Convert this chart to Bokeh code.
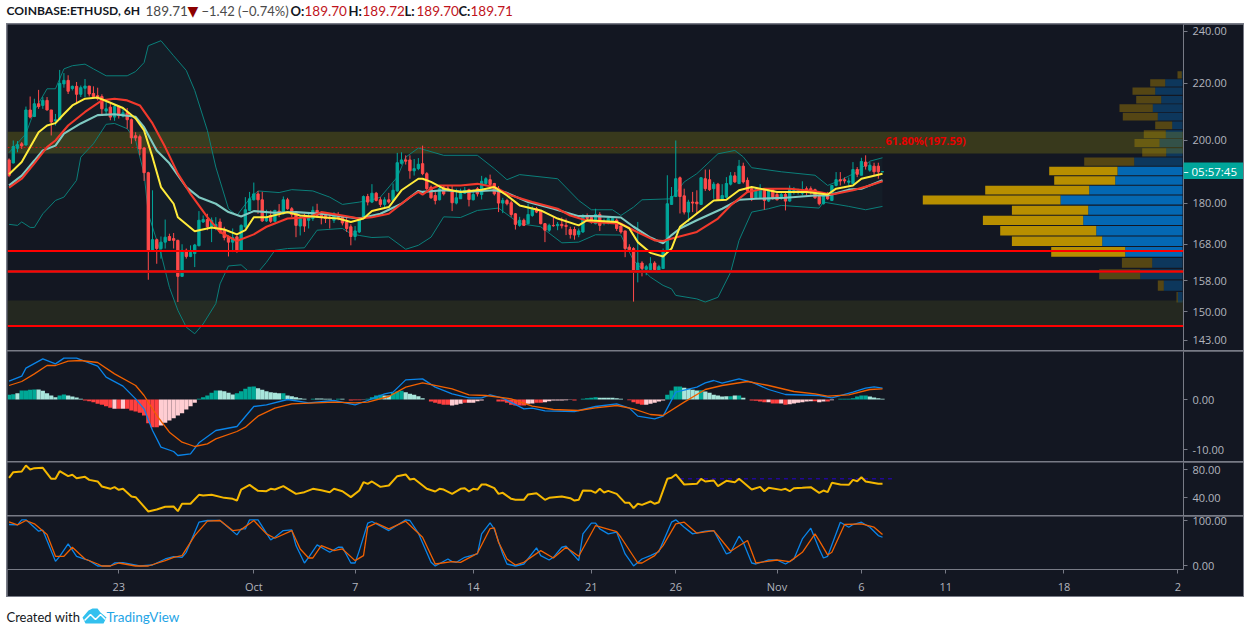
from bokeh.plotting import figure
from bokeh.layouts import column
from bokeh.models import Range1d, FixedTicker, PrintfTickFormatter, Label, Span
from bokeh.embed import file_html
from bokeh.resources import INLINE

BG = "#131722"; GRID = "#787b86"; TXT = "#b2b5be"
UP = "#00a69a"; DN = "#ff4a4a"; FONT = "Open Sans"

bar_idx = list(range(-26, 182))
opens = [193.5,192.5,197.3,198.8,198.4,210.4,208.1,212.6,212,213.8,210.4,206.6,207,219.8,221.1,218.1,218.9,216,218.2,219,216.3,215.5,215.2,210,211.4,207.9,
 211.6,208.2,209.4,207,201.5,201.2,197.4,189.4,166.3,169.3,166.8,168.6,170.2,169.6,169.1,159.2,166.3,164.6,165.4,167.6,174.4,175.1,172.8,172.8,174.4,172.2,170.1,168.6,170.1,166.3,
 173,177.8,181,182.8,181,174.7,176.3,174.6,177.6,176.8,181,178.3,177.3,173.2,175.4,174.9,175.4,177.8,176.8,176.3,175.8,174.9,175.8,175.8,174.4,173,170.2,171.5,175.8,182,180.3,183,181,179.6,181,180.8,183.7,192.4,193.5,193.5,190,190.7,
 192.3,189.1,184.9,182.3,181,184.9,184.6,183.4,180,181.3,183,184.1,181,184.4,182.6,186,187.2,186,184.4,180,180.8,180.1,176.8,173.4,174.9,173.9,176.3,178.3,177.6,173.9,172,173.4,173.3,173.7,173.4,172.2,172.2,170.8,171.5,176.1,175.7,173.9,176.6,174.1,174.1,174.4,174.9,173.2,171.8,167.2,166.8,160.3,162.8,161.1,161,162.8,160.8,161.3,165.8,179.6,182,187.8,182.2,177.3,180.3,180.3,179.6,187.5,187.2,184.4,185.8,181,181.8,185.8,188.4,186,191.5,187,184.4,181.6,181.6,184.1,180.6,184.1,182.6,181.6,182.6,180.6,183.4,183.4,183,184.4,184.4,184.1,182,179.8,182.8,180.8,185.4,187.2,187.2,186.4,186,190.4,188.6,192.8,190.2,191.5,191.5,189.70]
highs = [194,199.9,199.7,199.4,211.6,215.2,214.4,217.6,215,215,210.4,209,225,223.8,223,219.2,220.5,219.2,221.6,219,218.9,218.4,216,213.2,212.6,212.4,
 212,211.4,211.1,207.4,202.7,201.9,197.7,189.7,183.9,169.6,170.2,175.1,171,171.2,169.3,168,166.8,167.7,168.1,177.6,176.3,176.8,175.7,175.8,175.4,173,170.5,172.5,170.5,173.7,
 181.8,183.4,186.3,183.7,183.4,178,177.8,178,179.7,182,181.6,178.8,177.6,176.3,176.8,176.8,179,179.8,177.3,177.3,176.8,177.3,177.3,176.3,175.8,173.7,173.2,175.8,182.3,182.8,185.8,183.4,181.8,181.8,183.1,186,195.8,196,195,195,193.8,194.1,
 198.2,189.6,185.4,183.4,185.4,185.4,185.4,185.4,184.4,184.4,184.9,184.4,184.1,184.9,188.4,188,188.8,186.2,185.2,181.6,181.3,180.8,177,175.9,175.4,179.8,179,178.8,177.8,174.1,173.9,176,174.4,175.7,175.4,173,173,172.5,176.7,176.9,176.4,178.3,177.3,175.4,176.1,175.9,175.4,173.7,171.8,168,167.2,174.4,163.3,162.3,164.4,163.3,162.3,166.8,188.6,184.9,199.9,188.2,184.4,181,183.4,183.9,188,190.4,190.4,186.5,186.2,185.8,188,189.6,189.6,193.5,192.6,187.9,184.9,184.9,185.8,184.4,184.4,184.4,183.4,183.4,183.4,185.4,184.9,184.4,186.7,185.1,185.1,184.4,182.6,182.3,183.4,185.4,189.6,189.6,187.9,187.9,192.8,191.2,194.2,195,192.8,192.6,192.6,189.72]
lows = [188,192.4,196,197.1,198.2,207.4,207.9,210.8,210.8,210.2,201.6,205,207,218.4,216.1,217.4,212.6,215,215,215.2,215,213.8,208.4,208.4,206.8,206.6,
 207.4,207.8,203.9,198.8,199.7,195,186.8,158.3,166.3,162.6,164,166.8,168.9,166.8,152.5,159.2,164,164.4,161.7,167.4,174.1,172,168.6,172,171,169.1,164.6,165.8,165.6,166.1,
 172.5,177.6,180.8,176.8,174.4,174.4,174.1,174.4,175.8,176.6,178,175.8,170,170.5,171.5,172.5,174.7,175.8,173.7,174.1,172.5,174.1,174.9,173.4,171.5,167.7,169.1,171.2,175.4,179.3,180,180.5,178.8,178.8,179.8,180.3,183.4,192,192,187.5,188.5,190.2,
 188.6,184,181.3,179.6,180.8,182.3,183.7,177.6,179.6,181.3,182.8,179,180.8,182,181.1,185.4,184.9,182.3,177.3,177,179.3,175.9,172.2,173,173.2,173.7,175.9,177,173.7,168.6,171.5,173,172,172.5,170.6,169.6,169.3,170,171.2,174.4,173.9,173.7,171.8,173.4,173.7,173.9,171.8,171,164.4,166.3,152.6,157.6,159.2,159.5,160.9,160.1,160.6,161.3,165.6,179.6,181.8,176.9,176.6,174.4,177.3,177,179.6,183.7,183.7,181.3,181,180.8,181.6,185.4,186.2,185.8,186,183.4,180.6,181.3,181.3,178,180.3,181,180.8,181,177.8,180.4,182.6,182.6,182.3,182.3,182.6,181.3,179.3,179.6,181,180.6,185.1,185.4,186,185.4,185.8,188,188.6,190.4,189.7,188.6,187.5,189.70]
closes = [188.5,197.9,198.5,198.1,210.4,207.9,212.6,211.6,213.8,210.4,206.2,207,220,221.1,217.1,218.9,216,218.4,219,216.1,215.2,214.4,210.8,210.8,207.9,211.6,
 208.4,209.4,207,200.8,200.8,197.1,189.4,166.3,169.3,166.8,168.6,170,169.1,169.1,159.2,166.3,164.6,165.7,167.8,174.9,175.1,173,174.9,173.7,171.5,169.9,168.6,169.9,166.3,173.4,
 178,181.3,182.8,181,174.7,175.8,174.6,177.8,176.6,181,178.3,176.6,173.4,175.4,173.2,175.8,177.8,176.3,175.8,175.4,175.4,176.8,175.4,174.1,172.5,170.2,171.8,175.7,182,180.3,183,180.8,179.6,181,180.3,183.9,192.6,193.5,193.1,190,190.7,192.1,
 189.1,184.4,181.6,180.8,184.4,182.8,184.4,180.1,181.6,183,183.9,181.1,182.6,182.8,186.7,187.5,185.7,182.8,180,180.8,179.8,176.6,173.7,174.9,173.4,176.6,178.3,177.3,173.9,172,173.4,173.3,173.7,173.3,173.1,170.8,170.6,171.8,176.1,175.4,174.4,176.6,173.4,174.7,175.4,175.4,172.5,171.5,166.8,166.5,160.3,162.8,161.3,161.8,162.6,161,161.8,165.8,179.8,182,187.5,182,177.3,180.3,180,179.8,187.8,184.4,184.1,185.8,181,182.3,186,188.4,186.5,191.5,186.5,183.7,181.6,184.1,184.4,180.8,183.9,181.6,181,182.6,180.6,184.4,183.9,184.1,184.1,183.3,183.7,181.6,179.8,182,181.3,185.4,187.2,186.8,186.8,186.8,190.4,188.9,193,191.5,191.8,189.7,189.7,189.71]

bb_up_x = [-26,-22,-20,-17,-15,-13,-11,-8,-6,-3,2,4,6,7,10,13,16,18,21,23,26,28,31,33,38,41,46,50,53,57,60,62,66,68,71,73,77,85,89,92,95,104,109,112,117,119,122,124,131,134,137,142,146,148,150,157,165,168,171,175,178,181]
bb_up = [195.9,202.2,210.2,218,218,225.4,226.6,227.2,225.4,222.8,222.8,224.4,227.8,234.3,236.3,230.4,224.8,217.4,203.3,191.2,178.3,176.3,181.3,183.7,183.2,184.1,183.7,181.8,179.6,180.3,181,181.8,188,194.4,197.4,196.6,195,195,190.7,187.2,188.8,187.5,180.8,178,178,176.3,178.8,181,181.3,186.5,189.1,195.5,196.6,194.5,191,189.7,188.6,185.4,187,189.7,193.1,194.2]
bb_lo_x = [-26,-24,-23,-21,-20,-18,-15,-13,-10,-9,-6,-3,-1,2,4,6,7,10,12,14,16,18,20,23,24,26,29,31,33,35,37,40,44,47,53,55,57,60,64,68,71,74,77,81,85,90,95,100,105,109,113,119,120,122,126,129,131,132,137,139,142,145,147,150,154,157,166,167,173,177,181]
bb_lo = [173.7,173.4,174.4,172.8,172.8,176.8,180.8,181.8,187,194.4,198.8,205.4,205.7,203.9,199.9,189.1,176.8,165.4,156.3,150.4,146.2,144.6,147,152.1,157.2,162,162.3,160.3,160.3,163,166.3,166.8,167,172,172.5,171,170.5,169.9,170.1,166.6,167.7,170,175.9,175.7,177.8,178.5,173.9,173,168.4,168.6,170.7,170.6,168.1,163.5,159,156.8,155.9,154.2,153.3,152.5,153.7,160.3,169.1,177.3,178.3,179.3,178.5,180.3,179,178,179]
ema_fast_x = [-26,-23,-19,-17,-15,-13,-11,-8,-5,-3,1,4,6,8,10,13,14,18,22,25,28,30,32,35,40,43,48,52,55,58,60,64,67,71,72,74,77,81,86,89,92,95,100,104,109,111,118,121,123,126,129,131,133,137,141,144,147,150,156,163,168,170,174,176,181]
ema_fast = [188.9,192.8,202.7,205,205.8,209,212,214.4,214.8,213.6,211.1,207.4,203.3,194.4,184.9,179.8,175.8,171.7,172.8,172.2,170.8,172,175.8,175.8,177.3,176.3,175.8,175.4,174.4,175.4,177.6,178.8,183.9,187.5,187.5,186.5,184.4,183.4,184.1,184.9,182.3,179.3,177.8,175.4,173.4,174.9,174.4,172.5,168.6,165.6,164.6,166.8,173,176.9,180.8,181,183.9,184.9,183.4,183.4,182.6,184.4,185.4,187.5,189.1]
ma_mid_x = [-26,-23,-20,-18,-15,-13,-9,-5,-1,4,6,9,12,16,19,23,26,29,32,37,42,48,53,57,62,67,71,72,77,82,89,92,97,103,109,113,119,122,126,129,131,133,137,143,147,151,158,165,168,173,176,181]
ma_mid = [185.4,188.5,193.3,196.6,198.2,202.2,205.7,208.6,208.9,208,204.4,196.6,192.4,184.9,181.8,179.8,177.3,176,177.6,177.1,177.3,176.8,176,175.4,176.8,179.8,183.7,183.4,183.9,183.4,183.9,183.1,180.3,178.3,176.1,176.1,175.7,173,169.9,168.3,170.6,172.5,174.9,178.3,181,181.3,181.6,182.3,182.3,184.1,184.4,187]
ema_slow_x = [-26,-23,-20,-17,-15,-12,-8,-4,-1,2,5,8,11,14,17,21,24,28,32,35,40,45,48,53,57,60,64,69,71,72,74,76,81,85,89,93,98,104,107,112,119,122,127,129,132,137,142,145,149,153,159,165,169,174,178,181]
ema_slow = [184.7,187.5,192.4,197.7,199.9,205,209.7,213.8,214.4,213.8,212,205.7,197.7,189.1,182.8,175.8,171.5,168.9,170.8,173,175.4,175.8,177.3,176.3,175.4,175.8,176.8,181.8,183.4,182.6,184.4,185.4,185.4,185.9,184.9,182.3,180.3,178.3,176.3,174.4,173.9,172,169.1,168.9,169.9,171.5,175.4,179.3,183.4,184.4,184.4,183.6,182.6,183.9,185.4,186.7]

vp_low = [152.4,155.4,158.4,161.5,164.5,167.5,170.5,173.5,176.5,179.6,182.6,185.6,188.6,191.6,194.6,197.7,200.7,203.7,206.7,209.7,212.7,215.8,218.8,221.8]
vp_high = [155.1,158.1,161.1,164.2,167.2,170.2,173.2,176.2,179.2,182.3,185.3,188.3,191.3,194.3,197.3,200.4,203.4,206.4,209.4,212.4,215.4,218.5,221.5,224.5]
vp_buy = [4.7,18.7,42.3,30.3,57.3,80.3,86.3,99.3,94.3,122,93.3,67.3,65,48.3,16.3,23,16.7,10.3,24.7,29.7,21.3,27.3,17.3,.7]
vp_sell = [1.3,6,41,30.3,74,90.3,96,100.3,76.3,137.7,104,61,68.3,50,24,25,22,17,35,33.3,25,22.7,15,4.3]
vp_value_area = [0,0,0,0,1,1,1,1,1,1,1,1,1,0,0,0,0,0,0,0,0,0,0,0]

support_levels = [166.1, 160.5, 146.5]
fib_level = 197.59
zone_bottoms = [195.6, 146.5]
zone_tops = [202.9, 152.9]
price_ticks = [240, 220, 200, 180, 168, 158, 150, 143]

hist_vals = [.93,1.07,1.27,1.8,1.8,1.93,2,2,1.73,1.27,.8,.47,.8,1,.8,.6,.4,.13,
 -.2,-.33,-.53,-.87,-1.07,-1.33,-1.67,
 -1.87,-1.87,-1.87,-1.87,-2.2,-2.4,-2.67,-3.2,-4.73,-5.53,-5.53,
 -5.2,-4.67,-4.2,-3.73,-3.2,-2.73,-2,-1.33,-.67,
 .13,.47,.8,1.33,1.8, 1.8,1.67,1.33,1, 1.27,1.67,2.13,2.53,2.6, 2.27,1.93,1.67,1.47,1.33,1.27, 1.27, .8,.67,.47,.27,.13, 0,
 .13,.2,.2,.13,.13,0,.13,.13,0, -.2,-.13,-.13,-.03, .13,.47,.8,.93, .8,.8, 1.33,1.6,1.73, 1.47,1.13,.93,.67,.27,0,
 -.4,-.67,-.87,-1.07,-1.07, -1.2,-1.07,-.87,-.67,-.67,-.67,-.33,-.2,0,0,0,
 -.4,-.4,-.67,-1.07,-1.2,-1.2,-1.2, -.87,-.8,-.67,-.67,-.53,-.33,-.2,-.2,-.2,-.13,-.07,-.2,0,
 .13,.27,.33,.47, .33,.33,.33,.33,.27,.13,0, -.13,-.53,-.87,-1.07, -1.07,-.87,-.67,-.4,-.2,
 .93,1.8,2.6,2.6, 2.33,2.13,1.93,1.8, 1.87, 1.6,1.33,.93,.8,.6,.67, .67,.8,.8,.33,0,
 -.2,-.27,-.4,-.53, -.53, -.8,-.8, -.8, -1.07, -.93,-.8,-.67,-.53,-.4,-.33,-.33,-.53,-.4, -.4,-.13,0,
 .13,.13,.13,.27,.6,.8,.8, .6,.4,.27,.13]
hist_kinds = ("aabaaaabbbbbaabbbb" "ddddddd" "cdcdddddddd" "ccccccccc" "aaaaa" "bbbb" "aaaaa" "bbbbbb" "a" "bbbbb" "b"
 "abbbbbabb" "dddc" "aaaa" "bb" "aaa" "bbbbbb" "ddddd" "cccdccccccc" "ddddddd" "ccddcccccccdd" "aaaa" "bbbbbbb" "dddd" "ccccc"
 "aaaa" "bbbb" "a" "bbbbbb" "ababb" "dddd" "c" "dd" "c" "d" "ccccccdcc" "dcb" "aaaaaaa" "bbbb")
hist_palette = {"a": "#00a896", "b": "#a8e6dc", "c": "#ffcdd2", "d": "#ff4040"}

macd_x = [-26,-23,-22,-18,-15,-13,-10,-5,-3,1,4,6,8,10,13,14,17,19,23,28,32,35,40,45,51,56,59,63,65,68,72,75,79,83,86,88,91,96,98,101,108,113,118,121,123,127,129,132,137,139,141,143,147,150,154,158,166,169,174,177,179,181]
macd_line = [3.67,4.67,6.27,8.13,7.13,8.27,8.27,6.67,4.47,2.67,.13,-1.87,-6.2,-9.53,-10.4,-11.2,-10.87,-8.67,-6.2,-5.4,-1.4,-1.07,0,-.67,-.2,-1.07,-.2,1.13,1.47,3.93,4.13,2.47,1.13,.33,.33,.93,.27,-1.87,-1.73,-2.27,-2.4,-1.4,-.87,-1.73,-3.33,-3.87,-3.33,1.47,2.47,3.33,3.8,3.27,4.13,3.47,2,1,.8,.33,1.47,2.27,2.53,2.27]
signal_x = [-26,-23,-20,-17,-15,-12,-9,-5,-1,4,6,9,12,15,18,21,23,28,30,33,37,41,51,56,59,64,68,72,79,83,87,93,98,103,109,113,118,122,126,129,134,139,143,149,154,160,165,168,173,178,181]
signal_line = [2.8,3.6,5.13,6.8,6.8,7.67,7.8,7.4,5.13,2.8,.8,-3.2,-6.53,-8.53,-9.4,-8.87,-7.87,-6.4,-5.53,-3.33,-1.73,-.87,-.53,-.67,-.53,.6,2.47,3.33,2.13,.93,.8,.13,-1.33,-2,-2.2,-1.67,-1.2,-1.87,-3,-3.2,-.53,2,2.8,3.6,2.8,1.6,1.13,.67,.93,2,2.13]

rsi_x = [-26,-25,-23,-22,-21,-20,-18,-16,-15,-14,-12,-11,-10,-8,-7,-5,-4,-2,-1,0,1,3,4,7,9,11,13,14,15,17,19,20,22,25,27,28,29,31,33,35,36,37,39,42,44,46,48,50,51,53,55,57,58,59,60,62,64,66,68,69,70,73,75,76,77,79,81,82,83,84,85,86,87,89,90,91,93,94,96,97,99,101,102,105,107,108,109,110,112,113,114,115,116,118,120,121,122,123,124,126,127,128,130,131,132,134,137,138,139,141,142,144,146,147,150,152,153,154,157,158,159,160,162,164,166,167,168,169,171,173,174,175,176,177,178,180,181]
rsi_vals = [68.1,76.2,77.1,85.7,80,81.9,82.4,66.7,66.7,77.6,70.5,72.4,67.6,69.5,65.2,62.9,55.7,52.4,54.8,51,52.4,41.4,40.5,20,22.9,26.7,27.1,20.5,31,31,43.8,42.9,43.8,39.5,38.1,35.7,51.4,58,49.5,49,52.4,51.4,56.2,45.2,47.6,52.4,50.5,47.6,52.4,49,40.5,50,61.9,59.5,62.9,55.2,57.1,70.5,72.9,65.7,66.7,52.4,48.6,52.4,51.4,45.2,52.4,53.3,48.6,52.4,51.4,58.6,58.6,53.3,45.2,46.7,38.1,36.7,36.7,44.3,46.2,36.7,39.5,41.4,39,35.7,36.7,50,49.5,46.7,52.4,47.1,49.5,45.2,32.4,32.4,24.8,31,29.5,34.3,31,33.3,66.7,68.1,72.9,58.6,59.5,66.7,62.9,64.3,56.2,63.8,61.9,66.7,51.4,55.2,49,53.8,50.9,52.4,49,53.3,53.8,54.8,46.7,50,47.6,61,58.6,58.1,65.2,63.3,69,62.9,61.9,59.5,59.5]
rsi_band_x = [133, 184]
rsi_band = [66.7, 66.7]

stoch_k_x = [-26,-24,-23,-22,-19,-18,-15,-14,-12,-10,-7,-5,-2,-1,1,5,8,11,13,15,16,19,21,24,28,29,30,31,33,36,37,39,41,42,44,45,47,50,52,53,55,56,57,59,60,64,68,69,71,74,75,78,79,80,82,85,86,88,89,91,92,94,96,99,100,102,103,105,106,109,110,112,113,114,116,118,120,122,124,126,128,131,132,134,136,139,141,144,145,147,148,150,151,154,156,158,160,162,164,166,167,168,171,173,174,176,178,180,181]
stoch_k = [91.2,90.4,101.5,101.5,76.5,78.7,10.3,21.3,48.5,21.3,11.8,0,0,6.6,7.4,0,2.2,15.4,20.6,19.1,30.1,96.3,100,100,68.4,81.6,81.6,101.5,101.5,57.4,63.2,77.9,79.4,44.9,6.6,19.1,46.3,30.1,41.2,41.2,6.6,6.6,33.8,94.1,97.8,77.9,101.5,100,72.1,8.1,0,15.4,9.6,8.1,19.1,26.5,70.6,95,80.9,26.5,4.4,0,4.4,39.7,22.8,13.2,19.1,41.2,43.4,11.8,70.6,94.1,94.1,81.6,70.6,74.3,26.5,0,15.4,22.8,31.6,96.3,101.5,85.3,70.6,76.5,77.9,26.5,30.1,65.5,52.2,6.6,4.4,13.2,13.2,4.4,15.4,59.6,83.1,37.5,17.6,21.3,96.3,85.3,91.2,96.3,85.3,66.9,63.2]
stoch_d_x = [-26,-24,-22,-20,-17,-15,-13,-11,-8,-5,-4,-2,0,4,7,11,13,15,18,21,24,27,29,32,35,37,41,43,45,46,48,51,53,56,58,59,61,64,68,72,75,79,81,84,85,88,89,90,92,94,96,100,103,106,109,113,118,119,123,124,127,129,132,134,137,141,145,149,151,156,159,162,165,166,168,169,172,176,179,181]
stoch_d = [97.1,90.4,100,92.6,69.1,21.3,21.3,41.2,15.4,4.4,0,0,6.6,0,0,11.8,19.1,22.8,66.9,98.5,100,77.9,80,100,70.6,61,77.9,37.5,17.6,17.6,44.9,33.8,37.5,11.8,22.8,85.3,94.1,81.6,98.5,63.2,4.4,9.6,8.1,22.8,28,82.3,83.8,52.2,15.4,2.2,8.1,33.8,17.6,41.2,21.3,88.9,75.8,63.2,6.6,6.6,22.8,44.9,92.6,96.3,72.1,77.9,32.4,55.9,6.6,13.2,9.6,30.1,70.6,55.9,24.3,30.1,91.2,92.6,85.3,69]

time_ticks = [0, 32, 56, 84, 112, 132, 156, 176, 196, 224, 251]
time_labels = ["23", "Oct", "7", "14", "21", "26", "Nov", "6", "11", "18", "2"]

x_view = (-26.37, 252.33)
FRAME_W = 1176


def panel(fh, yr, ticks, yfmt="%.2f", log=False, bottom=0):
    p = figure(frame_width=FRAME_W, frame_height=fh, x_range=Range1d(*x_view), y_range=Range1d(*yr),
               y_axis_type="log" if log else "linear", y_axis_location="right", x_axis_location="below" if bottom else None,
               output_backend="svg", toolbar_location=None, background_fill_color=BG, border_fill_color=BG,
               min_border_left=0, min_border_top=0, min_border_bottom=bottom, min_border_right=60, outline_line_color=None,
               margin=(1, 1, 0, 1))
    p.grid.visible = False
    ax = p.yaxis[0]
    ax.ticker = FixedTicker(ticks=ticks)
    ax.formatter = PrintfTickFormatter(format=yfmt)
    ax.axis_line_color = GRID
    ax.major_tick_line_color = GRID
    ax.major_tick_in = 0
    ax.major_tick_out = 4
    ax.minor_tick_line_color = None
    ax.major_label_text_color = TXT
    ax.major_label_text_font = FONT
    ax.major_label_text_font_size = "11px"
    ax.major_label_standoff = 5
    return p


# ---------- main price panel
p1 = panel(326, (140.6, 242.8), price_ticks, log=True)
p1.extra_x_ranges["vol"] = Range1d(1175, -1)

p1.patch(bb_up_x + bb_lo_x[::-1], bb_up + bb_lo[::-1], fill_color="#26a69a", fill_alpha=0.045, line_color=None)
for i in range(len(vp_low)):
    bright = vp_value_area[i]
    a = 1.0 if bright else 0.40
    p1.quad(left=[vp_buy[i]], right=[0], bottom=[vp_low[i]], top=[vp_high[i]], x_range_name="vol",
            fill_color="#0468b3", fill_alpha=a, line_color=None)
    p1.quad(left=[vp_buy[i] + vp_sell[i]], right=[vp_buy[i]], bottom=[vp_low[i]], top=[vp_high[i]], x_range_name="vol",
            fill_color="#b88f00", fill_alpha=a, line_color=None)
p1.quad(left=[x_view[0]], right=[x_view[1]], bottom=[zone_bottoms[0]], top=[zone_tops[0]], fill_color="#a79f0a", fill_alpha=0.25, line_color=None)
p1.quad(left=[x_view[0]], right=[x_view[1]], bottom=[zone_bottoms[1]], top=[zone_tops[1]], fill_color="#575b1a", fill_alpha=0.25, line_color=None)
p1.line(x_view[0:1] + (181.5,), [fib_level, fib_level], line_color="#d01010", line_width=1, line_dash="2 2")

p1.line(bb_up_x, bb_up, line_color="#0b7f7a", line_width=1)
p1.line(bb_lo_x, bb_lo, line_color="#0b7f7a", line_width=1)

colors = [UP if c >= o else DN for o, c in zip(opens, closes)]
p1.segment(bar_idx, highs, bar_idx, lows, line_color=colors, line_width=1)
p1.vbar(x=bar_idx, bottom=[min(o, c) for o, c in zip(opens, closes)], top=[max(o, c) for o, c in zip(opens, closes)],
        width=0.55, fill_color=colors, line_color=colors, line_width=1)

p1.line(ma_mid_x, ma_mid, line_color="#7fcac2", line_width=2.1)
p1.line(ema_slow_x, ema_slow, line_color="#f2392c", line_width=2.1)
p1.line(ema_fast_x, ema_fast, line_color="#ffeb3b", line_width=2)

p1.add_layout(Span(location=support_levels[0], dimension="width", line_color="#ff0000", line_width=2))
p1.add_layout(Span(location=support_levels[1], dimension="width", line_color="#b01818", line_width=3))
p1.add_layout(Span(location=support_levels[1], dimension="width", line_color="#ff0000", line_width=1))
p1.add_layout(Span(location=support_levels[2], dimension="width", line_color="#ff0000", line_width=2))

p1.add_layout(Label(x=181.7, y=199.9, text="61.80%(197.59)", text_color="#e80000", text_font=FONT,
                    text_font_size="11px", text_baseline="middle", text_font_style="bold"))

# ---------- MACD
p2 = panel(110, (-12.4, 9.6), [0, -10])
p2.vbar(x=bar_idx, bottom=0, top=hist_vals, width=1.0, line_color=None,
        fill_color=[hist_palette[k] for k in hist_kinds][:len(bar_idx)])
p2.line(macd_x, macd_line, line_color="#0a84e8", line_width=1.3)
p2.line(signal_x, signal_line, line_color="#f06000", line_width=1.3)

# ---------- RSI
p3 = panel(53, (14.3, 90), [80, 40])
p3.line(rsi_band_x, rsi_band, line_color="#2a00d0", line_width=1, line_dash="4 4")
p3.line(rsi_x, rsi_vals, line_color="#f5b800", line_width=2)

# ---------- Stochastic
p4 = panel(53, (-7.7, 108.8), [100, 0], bottom=26)
p4.margin = (1, 1, 1, 1)
p4.line(stoch_k_x, stoch_k, line_color="#0a84e8", line_width=1.3)
p4.line(stoch_d_x, stoch_d, line_color="#f06000", line_width=1.3)
xa = p4.xaxis[0]
xa.ticker = FixedTicker(ticks=time_ticks)
xa.major_label_overrides = dict(zip(time_ticks, time_labels))
xa.axis_line_color = GRID
xa.major_tick_line_color = GRID
xa.major_tick_in = 0
xa.major_tick_out = 4
xa.minor_tick_line_color = None
xa.major_label_text_color = TXT
xa.major_label_text_font = FONT
xa.major_label_text_font_size = "11px"
xa.major_label_standoff = 5

panels = column(p1, p2, p3, p4, spacing=0, margin=(0, 0, 0, 6), styles={"background-color": GRID})

# ---------- header and footer
head = figure(width=1250, height=23, x_range=Range1d(0, 1250), y_range=Range1d(23, 0), x_axis_location=None, y_axis_location=None,
              output_backend="svg", toolbar_location=None, outline_line_color=None, min_border=0, margin=0)
head.grid.visible = False
DARK = "#131722"; MID = "#4a4a4a"; VAL = "#c0141c"
segments = [(6, "COINBASE:ETHUSD, 6H", DARK, "bold", "12.1px", "Lato"), (145, "189.71", MID, "normal", "13.5px", "Lato"), (187, "▼", "#8b0000", "normal", "14px", "DejaVu Sans"),
            (201, "−1.42 (−0.74%)", MID, "normal", "13px", "Lato"),
            (290, "O:", DARK, "bold", "13px", "Lato"), (304, "189.70", VAL, "normal", "13.5px", "Lato"), (348, "H:", DARK, "bold", "13px", "Lato"), (362, "189.72", VAL, "normal", "13.5px", "Lato"),
            (404, "L:", DARK, "bold", "13px", "Lato"), (416, "189.70", VAL, "normal", "13.5px", "Lato"), (458, "C:", DARK, "bold", "13px", "Lato"), (470, "189.71", VAL, "normal", "13.5px", "Lato")]
for x, t, c, st, fs, fn in segments:
    head.add_layout(Label(x=x, y=10, text=t, text_color=c, text_font=fn, text_font_size=fs, text_font_style=st, text_baseline="middle"))

foot = figure(width=1250, height=30, x_range=Range1d(0, 1250), y_range=Range1d(30, 0), x_axis_location=None, y_axis_location=None,
              output_backend="svg", toolbar_location=None, outline_line_color=None, min_border=0, margin=0)
foot.grid.visible = False
foot.add_layout(Label(x=6, y=19, text="Created with", text_color="#131722", text_font="Lato", text_font_size="13px", text_baseline="middle"))
foot.add_layout(Label(x=106, y=19, text="TradingView", text_color="#1fa5e6", text_font="Lato", text_font_size="13.5px", text_baseline="middle"))
foot.patch([82, 88, 92, 97, 100, 106, 103, 85], [20, 13, 11, 11, 15, 20, 26, 26], fill_color="#33c0ee", line_color=None)
foot.line([84, 90, 95, 100, 105], [23, 17, 22, 17, 22], line_color="#ffffff", line_width=1.5)

# ---------- countdown tag that sits on the price axis
tag = figure(width=60, height=17, x_range=Range1d(0, 60), y_range=Range1d(0, 17), x_axis_location=None, y_axis_location=None,
             output_backend="svg", toolbar_location=None, outline_line_color=None, min_border=0, margin=0,
             background_fill_color="#00a59a", border_fill_color="#00a59a",
             styles={"position": "absolute", "left": "1183px", "top": "162px", "z-index": "10"})
tag.grid.visible = False
tag.add_layout(Label(x=8, y=8.5, text="05:57:45", text_color="#ffffff", text_font=FONT, text_font_size="11.5px", text_baseline="middle"))
tag.add_layout(Label(x=0, y=8.5, text="–", text_color="#ffffff", text_font=FONT, text_font_size="10px", text_baseline="middle"))

root = column(head, panels, foot, tag, spacing=0, margin=0)
open("out.html", "w").write(file_html(root, INLINE))
